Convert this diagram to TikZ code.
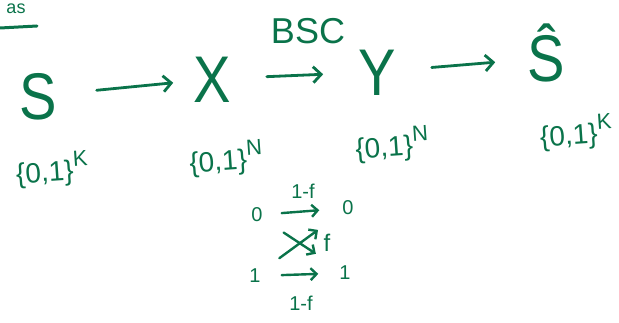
\documentclass[tikz,border=0pt]{standalone}
\usepackage{fontspec}
\setmainfont{Liberation Sans}
\usetikzlibrary{arrows.meta}
\definecolor{ink}{RGB}{10,115,74}
\begin{document}
\begin{tikzpicture}[x=1pt,y=-1pt,
  inktext/.style={text=ink,inner sep=0pt},
  big/.style={inktext,font=\fontsize{66}{66}\selectfont,text height=47pt,text depth=0pt,xscale=0.85},
  setlbl/.style={inktext,font=\fontsize{28}{28}\selectfont},
  bsclbl/.style={inktext,font=\fontsize{36}{36}\selectfont},
  small/.style={inktext,font=\fontsize{20}{20}\selectfont},
  arr/.style={draw=ink,line width=2.8pt,line cap=round,
    -{Straight Barb[length=8pt,width=16pt,line width=2.8pt]}},
  sarr/.style={draw=ink,line width=2.4pt,line cap=round,
    -{Straight Barb[length=6pt,width=12pt,line width=2.4pt]}}]
\useasboundingbox (0,0) rectangle (619,323);
% top-left fragment
\node[inktext,font=\fontsize{18}{18}\selectfont,anchor=base] (frag) at (16,14) {as};
\coordinate (ul1) at (0,28);
\coordinate (ul2) at (37,26);
\draw[ink,line width=3pt,line cap=round] (ul1) -- (ul2);
% main chain
\node[big] (S) at (38,96) {S};
\node[big] (X) at (212,79) {X};
\node[big] (Y) at (377,72) {Y};
\node[big] (Sh) at (546,58) {Ŝ};
\node[bsclbl] (bsc) at (308,31) {BSC};
\draw[arr,shorten <=40pt,shorten >=20pt] (S) -- (X);
\draw[arr,shorten <=36pt,shorten >=35pt] (X) -- (Y);
\draw[arr,shorten <=36pt,shorten >=32pt] (Y) -- (Sh);
% alphabets
\node[setlbl,rotate=4] (setS) at (52,170) {\{0,1\}\raisebox{13pt}{\fontsize{22}{22}\selectfont K}};
\node[setlbl,rotate=4] (setX) at (226,159) {\{0,1\}\raisebox{13pt}{\fontsize{22}{22}\selectfont N}};
\node[setlbl,rotate=4] (setY) at (392,145) {\{0,1\}\raisebox{13pt}{\fontsize{22}{22}\selectfont N}};
\node[setlbl,rotate=4] (setSh) at (576,133) {\{0,1\}\raisebox{13pt}{\fontsize{22}{22}\selectfont K}};
% binary symmetric channel
\node[small] (a0) at (257,215) {0};
\node[small] (b0) at (348,208) {0};
\node[small] (a1) at (255,276) {1};
\node[small] (b1) at (345,273) {1};
\draw[sarr,shorten <=19pt,shorten >=23pt] (a0) -- (b0);
\draw[sarr,shorten <=21pt,shorten >=21pt] (a1) -- (b1);
\draw[sarr,shorten <=23pt,shorten >=30pt] (a1) -- (b0);
\draw[sarr,shorten <=25pt,shorten >=28pt] (a0) -- (b1);
\node[small] (pt) at (303,191) {1-f};
\node[small,font=\fontsize{24}{24}\selectfont] (pf) at (327,243) {f};
\node[small] (pb) at (301,303) {1-f};
\end{tikzpicture}
\end{document}
